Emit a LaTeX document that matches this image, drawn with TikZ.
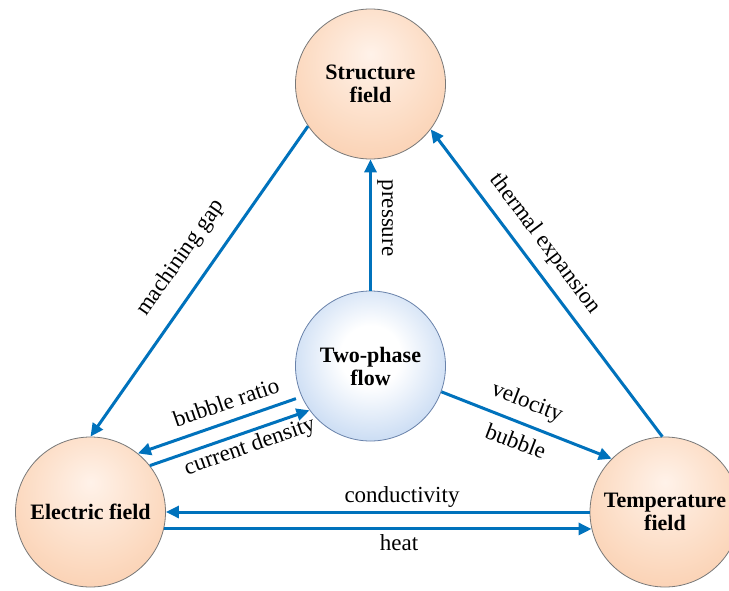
\documentclass[tikz,border=0pt]{standalone}
\usepackage{fontspec}
\setmainfont{Liberation Serif}
\usetikzlibrary{arrows.meta}
\definecolor{arrblue}{RGB}{0,114,188}
\definecolor{pchA}{RGB}{255,242,233}
\definecolor{pchB}{RGB}{252,220,196}
\definecolor{pchC}{RGB}{248,190,150}
\definecolor{bluA}{RGB}{255,255,255}
\definecolor{bluB}{RGB}{196,216,242}
\definecolor{bluC}{RGB}{138,172,222}
\definecolor{bluD}{RGB}{120,155,208}
\definecolor{rimgray}{RGB}{120,120,120}
\definecolor{rimblue}{RGB}{105,130,170}
\pgfdeclareradialshading{peachball}{\pgfpoint{0bp}{10bp}}{color(0bp)=(pchA); color(22bp)=(pchB); color(50bp)=(pchC); color(70bp)=(pchC)}
\pgfdeclareradialshading{blueball}{\pgfpoint{0bp}{4bp}}{color(0bp)=(bluA); color(10bp)=(bluA); color(30bp)=(bluB); color(47bp)=(bluC); color(54bp)=(bluD); color(70bp)=(bluD)}
\tikzset{
  ballnode/.style={circle, minimum size=150pt, inner sep=0pt, align=center,
    font=\fontsize{22}{23}\selectfont\bfseries, line width=0.8pt},
  peachnode/.style={ballnode, draw=rimgray, shade, shading=peachball},
  bluenode/.style={ballnode, draw=rimblue, shade, shading=blueball},
  arr/.style={draw=arrblue, line width=3pt, -{Triangle[length=13pt,width=12pt]}},
  lbl/.style={font=\fontsize{23}{24}\selectfont, inner sep=0pt}
}
\begin{document}
\begin{tikzpicture}[x=1pt,y=-1pt]
\fill[white] (0,0) rectangle (729,590);
\useasboundingbox (0,0) rectangle (729,590);
\node[peachnode] (sf) at (370.5,84) {Structure\\field};
\node[bluenode] (tp) at (370.5,366) {Two-phase\\flow};
\node[peachnode] (ef) at (90.5,512) {Electric field};
\node[peachnode] (tf) at (665,512) {Temperature\\field};
\draw[arr] (tp.90) -- (sf.-90);
\draw[arr] (sf.214) -- (ef.90);
\draw[arr] (tf.92) -- (sf.-37);
\draw[arr, shorten <=6pt] (tp.204) -- (ef.51);
\draw[arr] (ef.38) -- (tp.216);
\draw[arr] (tp.-20) -- (tf.135);
\draw[arr] (tf.180) -- (ef.0);
\draw[arr] (ef.-13) -- (tf.193);
\node[lbl, rotate=-90] (lp) at (385,218) {pressure};
\node[lbl, rotate=55] (lmg) at (181,258) {machining gap};
\node[lbl, rotate=-53] (lte) at (545,244) {thermal expansion};
\node[lbl, rotate=19] (lbr) at (226,402) {bubble ratio};
\node[lbl, rotate=19.5] (lcd) at (250,447) {current density};
\node[lbl, rotate=-21] (lv) at (527,403) {velocity};
\node[lbl, rotate=-21] (lb) at (516,441) {bubble};
\node[lbl] (lc) at (402,497) {conductivity};
\node[lbl] (lh) at (399,543) {heat};
\end{tikzpicture}
\end{document}
